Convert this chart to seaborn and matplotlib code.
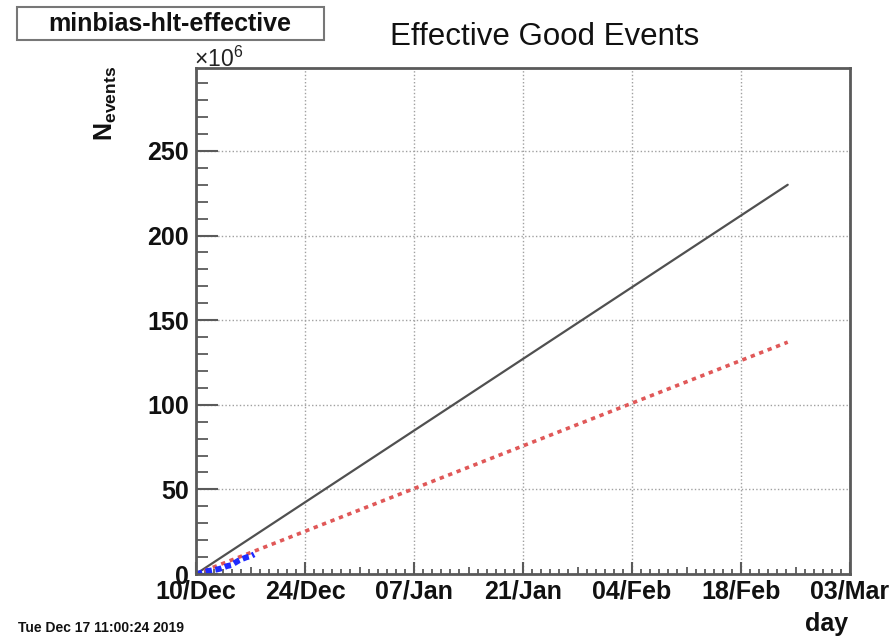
import numpy as np
import pandas as pd
import matplotlib
matplotlib.use("Agg")
import matplotlib.pyplot as plt
import matplotlib.dates as mdates
from matplotlib.patches import Rectangle
import seaborn as sns

# ---- data -------------------------------------------------------------
start = pd.Timestamp("2019-12-10")

# accumulated effective good events (x10^6), days since run start
run_days = [0.0, 0.5, 1.0, 1.5, 2.0, 2.5, 3.0, 3.5, 4.0, 4.5, 5.0, 5.5, 6.0, 6.5, 7.0, 7.46]
run_vals = [0.0, 0.5, 1.2, 1.8, 2.1, 2.5, 3.0, 3.8, 4.7, 5.2, 6.6, 8.0, 9.0, 9.9, 10.5, 11.6]

# goal line and linear projection of the current rate
goal_days = [0, 76]
goal_vals = [0, 230]
proj_days = [0, 76]
proj_vals = [0, 137]

x_tick_labels = ["10/Dec", "24/Dec", "07/Jan", "21/Jan", "04/Feb", "18/Feb", "03/Mar"]
y_ticks = [0, 50, 100, 150, 200, 250]


def to_dates(days):
    return start + pd.to_timedelta(np.asarray(days, dtype=float), unit="D")


# ---- style ------------------------------------------------------------
sns.set_theme(style="white")
plt.rcParams["font.family"] = ["Liberation Sans", "DejaVu Sans"]
plt.rcParams["mathtext.fontset"] = "custom"
plt.rcParams["mathtext.rm"] = "Liberation Sans"
plt.rcParams["mathtext.bf"] = "Liberation Sans:bold"
plt.rcParams["mathtext.it"] = "Liberation Sans:italic"

W, H = 892, 641
fig = plt.figure(figsize=(W / 100, H / 100), dpi=100)
fig.patch.set_facecolor("white")
ax = fig.add_axes([196 / W, (H - 574) / H, 654 / W, 506 / H])

frame = "#5a5a5a"

# ---- lines ------------------------------------------------------------
sns.lineplot(x=to_dates(goal_days), y=goal_vals, ax=ax, color="#505050", lw=1.6)
sns.lineplot(x=to_dates(proj_days), y=proj_vals, ax=ax, color="#e05858",
             lw=2.6, linestyle=(0, (1.2, 1.3)))
sns.lineplot(x=to_dates(run_days), y=run_vals, ax=ax, color="#1f2bff",
             lw=4.2, linestyle=(0, (1.1, 0.6)))

# ---- axes -------------------------------------------------------------
x0 = mdates.date2num(start)
ax.set_xlim(x0, x0 + 84)
ax.set_ylim(0, 299)

major_x = [x0 + 14 * i for i in range(7)]
minor_x = [x0 + 28 / 24 * k for k in range(73) if k % 6 != 0]
medium_x = [x0 + 7 + 14 * i for i in range(6)]

ax.set_xticks(major_x)
ax.set_xticklabels(x_tick_labels)
ax.set_xticks(minor_x, minor=True)
ax.set_yticks(y_ticks)
ax.set_yticklabels([str(v) for v in y_ticks])
ax.set_yticks(np.arange(0, 300, 10), minor=True)

ax.set_xlabel("")
ax.set_ylabel("")

ax.tick_params(which="both", bottom=True, left=True, top=False, right=False)
ax.tick_params(axis="x", which="major", direction="in", length=9, width=1.5,
               color=frame, labelsize=18, pad=4)
ax.tick_params(axis="x", which="minor", direction="in", length=3.4, width=1.3,
               color=frame)
ax.tick_params(axis="y", which="major", direction="in", length=16, width=1.5,
               color=frame, labelsize=18, pad=5)
ax.tick_params(axis="y", which="minor", direction="in", length=8.5, width=1.3,
               color=frame)
for lbl in ax.get_xticklabels() + ax.get_yticklabels():
    lbl.set_fontweight("bold")
    lbl.set_color("#111111")

# half-period ticks on the time axis
sec = ax.secondary_xaxis("bottom")
sec.set_xticks(medium_x)
sec.tick_params(axis="x", which="major", bottom=True, direction="in", length=5.2,
                width=1.3, color=frame, labelbottom=False)
sec.spines["bottom"].set_visible(False)

ax.grid(True, which="major", color="#a0a0a0", lw=1.0, linestyle=(0, (1, 1.6)))
for s in ax.spines.values():
    s.set_color(frame)
    s.set_linewidth(2.0)

# ---- annotations ------------------------------------------------------
fig.text(545 / W, 1 - 37 / H, "Effective Good Events", ha="center", va="center",
         fontsize=22.5, color="#111111")

fig.add_artist(Rectangle((17 / W, 1 - 40 / H), 307 / W, 33 / H,
                         transform=fig.transFigure, facecolor="white",
                         edgecolor="#777777", lw=1.5))
fig.text(170 / W, 1 - 24 / H, "minbias-hlt-effective", ha="center", va="center",
         fontsize=18, fontweight="bold", color="#111111")

fig.text(194 / W, 1 - 67 / H, r"$\times10^{6}$", ha="left", va="baseline",
         fontsize=16.5, color="#222222")
fig.text(106 / W, 1 - 66 / H, r"$\mathbf{N}_{\mathbf{events}}$", rotation=90,
         ha="center", va="top", fontsize=18, color="#111111")

fig.text(18 / W, 1 - 628 / H, "Tue Dec 17 11:00:24 2019", ha="left", va="center",
         fontsize=10, fontweight="bold", color="#111111")
fig.text(848 / W, 1 - 631 / H, "day", ha="right", va="baseline", fontsize=18,
         fontweight="bold", color="#111111")

fig.savefig("out.png", dpi=100, facecolor="white")
